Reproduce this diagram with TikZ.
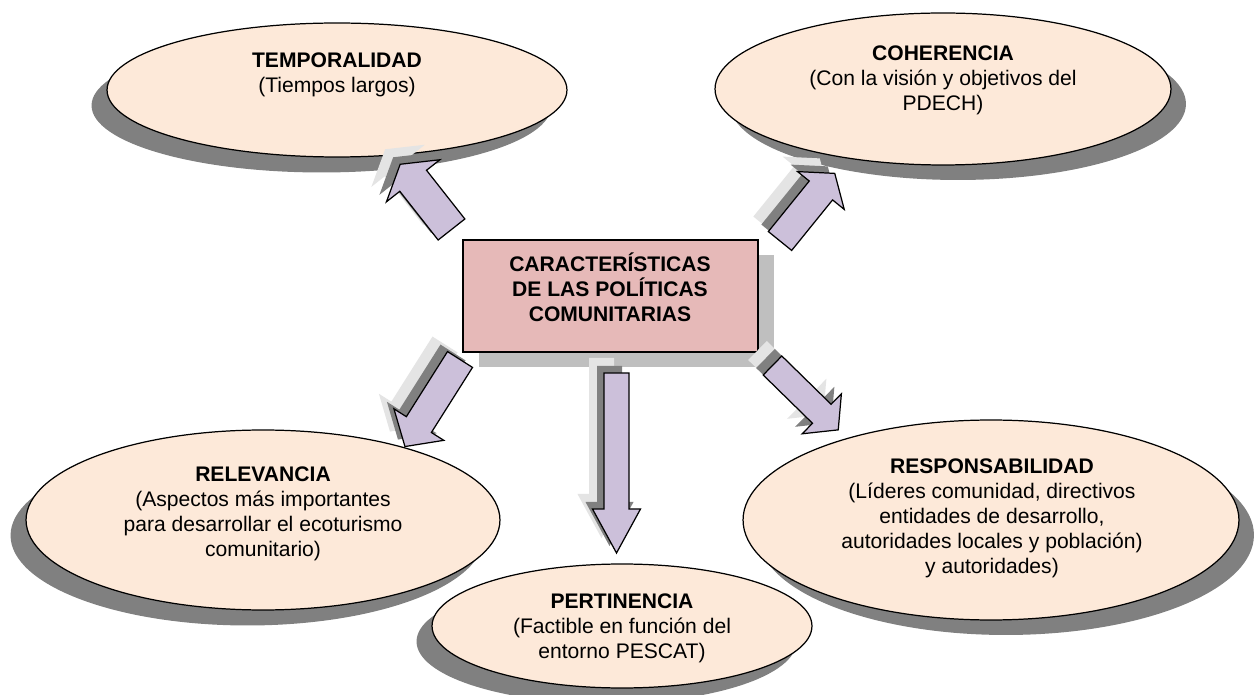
\documentclass[tikz,border=0pt]{standalone}
\usepackage{fontspec}
\setmainfont{Liberation Sans}
\usetikzlibrary{shapes.geometric,shadows}
\definecolor{ellfill}{HTML}{FDE9D9}
\definecolor{boxfill}{HTML}{E6B9B8}
\definecolor{arrfill}{HTML}{CCC0DA}
\definecolor{shdark}{HTML}{808080}
\definecolor{shlight}{HTML}{E4E4E4}
\definecolor{boxshd}{HTML}{BFBFBF}
% tail x, tail y, angle, length, shaft half width, head half width, head length, style
\newcommand{\blockarr}[8]{%
  \begin{scope}[shift={(#1,#2)},rotate=#3]
    \path[#8] (0,#5) -- ({#4-#7},#5) -- ({#4-#7},#6) -- (#4,0) -- ({#4-#7},-#6) -- ({#4-#7},-#5) -- (0,-#5) -- cycle;
  \end{scope}}
\newcommand{\shadedarr}[7]{%
  \begin{scope}[shift={(-15,-15)}]\blockarr{#1}{#2}{#3}{#4}{#5}{#6}{#7}{fill=shlight}\end{scope}
  \begin{scope}[shift={(-7,-7)}]\blockarr{#1}{#2}{#3}{#4}{#5}{#6}{#7}{fill=shdark}\end{scope}
  \blockarr{#1}{#2}{#3}{#4}{#5}{#6}{#7}{arrst}}
\tikzset{
  ell/.style={ellipse, draw=black, line width=0.7pt, fill=ellfill, inner sep=0pt},
  shl/.style={drop shadow={shadow xshift=-0.31cm, shadow yshift=-0.31cm, fill=shdark, opacity=1}},
  shr/.style={drop shadow={shadow xshift=0.3cm, shadow yshift=-0.3cm, fill=shdark, opacity=1}},
  boxst/.style={rectangle, draw=black, line width=0.8pt, fill=boxfill, inner sep=0pt,
    drop shadow={shadow xshift=0.32cm, shadow yshift=-0.3cm, fill=boxshd, opacity=1}},
  arrst/.style={draw=black, line width=0.7pt, fill=arrfill, line join=miter},
  txt/.style={align=center, inner sep=0pt, font=\fontsize{12}{14.2}\selectfont}
}
\begin{document}
\begin{tikzpicture}[x=0.02cm, y=-0.02cm]
\useasboundingbox (0,0) rectangle (1254,695);
\fill[white] (0,0) rectangle (1254,695);
% ellipses
\node[ell, shl, minimum width=9.2cm, minimum height=2.68cm] (eT) at (337,90) {};
\node[ell, shr, minimum width=9.12cm, minimum height=3.04cm] (eC) at (943,89) {};
\node[ell, shl, minimum width=9.48cm, minimum height=3.6cm] (eR) at (263,520) {};
\node[ell, shr, minimum width=9.92cm, minimum height=4.0cm] (eS) at (991,520) {};
\node[ell, shl, minimum width=7.6cm, minimum height=2.48cm] (eP) at (622,626) {};
% central box
\node[boxst, minimum width=5.9cm, minimum height=2.24cm] (box) at (610.5,296) {};
% block arrows
\shadedarr{451.5}{229.5}{128.2}{83}{17}{34}{21}
\shadedarr{780}{241}{51.0}{87}{15}{30}{22}
\shadedarr{460}{359.5}{237.7}{103}{14.8}{29.5}{26}
\shadedarr{616.5}{373}{-90}{180}{12.5}{24}{44}
\shadedarr{772.5}{365.5}{-44.4}{92}{13.3}{28}{23}
% texts
\node[txt] (tT) at (337,75) {\textbf{TEMPORALIDAD}\\(Tiempos largos)};
\node[txt] (tC) at (943,80.5) {\textbf{COHERENCIA}\\(Con la visión y objetivos del\\PDECH)};
\node[txt] (tR) at (263,514) {\textbf{RELEVANCIA}\\(Aspectos más importantes\\para desarrollar el ecoturismo\\comunitario)};
\node[txt] (tS) at (992,518) {\textbf{RESPONSABILIDAD}\\(Líderes comunidad, directivos\\entidades de desarrollo,\\autoridades locales y población)\\y autoridades)};
\node[txt] (tP) at (622,628) {\textbf{PERTINENCIA}\\(Factible en función del\\entorno PESCAT)};
\node[txt, font=\fontsize{12}{14.2}\selectfont\bfseries] (tB) at (610,287) {CARACTERÍSTICAS\\DE LAS POLÍTICAS\\COMUNITARIAS};
\end{tikzpicture}
\end{document}
